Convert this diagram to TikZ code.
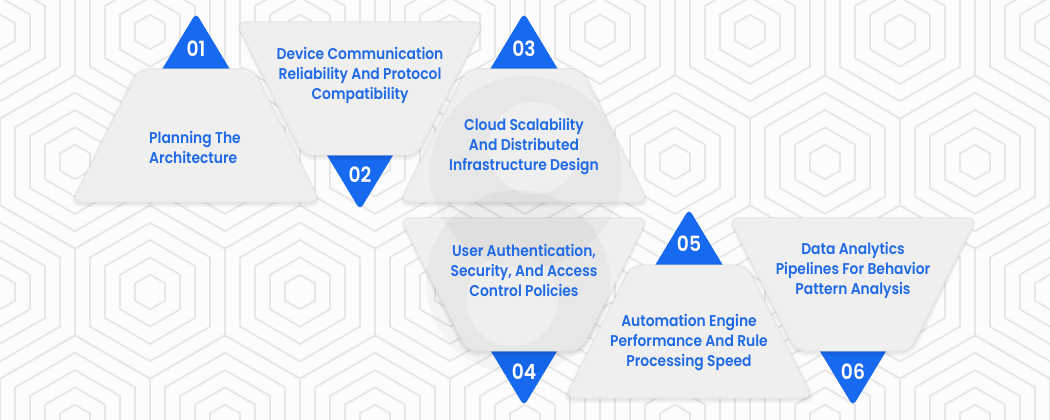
\documentclass[tikz,border=0pt]{standalone}
\usepackage{fontspec}
\setmainfont{Poppins}[UprightFont=* SemiBold, BoldFont=* SemiBold, FakeStretch=0.89]
\definecolor{blueA}{HTML}{1769F0}
\definecolor{txtblue}{HTML}{1F6AE6}
\definecolor{trapfill}{HTML}{EFEFEF}
\definecolor{patline}{HTML}{E7E7E7}
\definecolor{bgc}{HTML}{FCFCFC}
\tikzset{
  trtext/.style={text=txtblue, align=center, inner sep=0pt, font=\fontsize{15.6}{20}\selectfont},
  numtext/.style={text=white, inner sep=0pt, font=\bfseries\fontsize{21}{21}\selectfont},
  uptrap/.pic={
    \fill[black, opacity=0.04, rounded corners=12] (-59.5,-1) -- (59.5,-1) -- (128,138) -- (-128,138) -- cycle;
    \fill[black, opacity=0.05, rounded corners=11] (-58,0) -- (58,0) -- (125.5,135.5) -- (-125.5,135.5) -- cycle;
    \filldraw[fill=trapfill, draw=white!90!black, line width=0.8, rounded corners=10] (-57,0) -- (57,0) -- (124,133) -- (-124,133) -- cycle;
  },
  dntrap/.pic={
    \fill[black, opacity=0.04, rounded corners=12] (-126.5,-1) -- (126.5,-1) -- (59.5,138) -- (-59.5,138) -- cycle;
    \fill[black, opacity=0.05, rounded corners=11] (-125,0) -- (125,0) -- (58,135.5) -- (-58,135.5) -- cycle;
    \filldraw[fill=trapfill, draw=white!90!black, line width=0.8, rounded corners=10] (-124,0) -- (124,0) -- (57,133) -- (-57,133) -- cycle;
  },
  uptri/.pic={
    \fill[blueA, rounded corners=5] (-38,8) -- (0,-55) -- (38,8) -- cycle;
  },
  dntri/.pic={
    \fill[blueA, rounded corners=5] (-38,-8) -- (0,55) -- (38,-8) -- cycle;
  },
}
\begin{document}
\begin{tikzpicture}[x=1pt,y=-1pt]
\useasboundingbox (0,0) rectangle (1050,420);
\fill[bgc] (0,0) rectangle (1050,420);
% background hexagonal pattern
\begin{scope}
\clip (0,0) rectangle (1050,420);
\foreach \j in {-2,...,1} {
  \foreach \k in {-2,...,6} {
    \pgfmathsetmacro\cx{150+150*\k+75*mod(abs(\j),2)}
    \pgfmathsetmacro\cy{292+130*\j}
    \foreach \r in {75,60,45,30,15} {
      \pgfmathsetmacro\R{\r*1.1547}
      \draw[patline, line width=1.8, shift={(\cx,\cy)}] (30:\R) -- (90:\R) -- (150:\R) -- (210:\R) -- (270:\R) -- (330:\R) -- cycle;
    }
  }
}
\end{scope}
% number triangles
\pic at (196,68) {uptri};
\pic at (360,155) {dntri};
\pic at (524,68) {uptri};
\pic at (524,351) {dntri};
\pic at (689,264) {uptri};
\pic at (853,351) {dntri};
% trapezoids
\pic at (196,69) {uptrap};
\pic at (360,22) {dntrap};
\pic at (524,69) {uptrap};
\pic at (524,218) {dntrap};
\pic at (689,265) {uptrap};
\pic at (853,218) {dntrap};
% watermark
\fill[black, opacity=0.03, even odd rule] (526,172) circle (96) (534,148) circle (46);
\fill[black, opacity=0.03, even odd rule] (518,282) circle (92) (512,300) circle (46);
% numbers
\node[numtext] (n1) at (196,49) {01};
\node[numtext] (n2) at (360,175) {02};
\node[numtext] (n3) at (524,49) {03};
\node[numtext] (n4) at (524,372) {04};
\node[numtext] (n5) at (689,244) {05};
\node[numtext] (n6) at (853,372) {06};
% texts
\node[trtext, align=left] (t1) at (195,147) {Planning The\\Architecture};
\node[trtext] (t2) at (360,75) {Device Communication\\Reliability And Protocol\\Compatibility};
\node[trtext] (t3) at (524,147) {Cloud Scalability\\And Distributed\\Infrastructure Design};
\node[trtext] (t4) at (524,270) {User Authentication,\\Security, And Access\\Control Policies};
\node[trtext] (t5) at (689,343) {Automation Engine\\Performance And Rule\\Processing Speed};
\node[trtext] (t6) at (853,270) {Data Analytics\\Pipelines For Behavior\\Pattern Analysis};
\end{tikzpicture}
\end{document}
